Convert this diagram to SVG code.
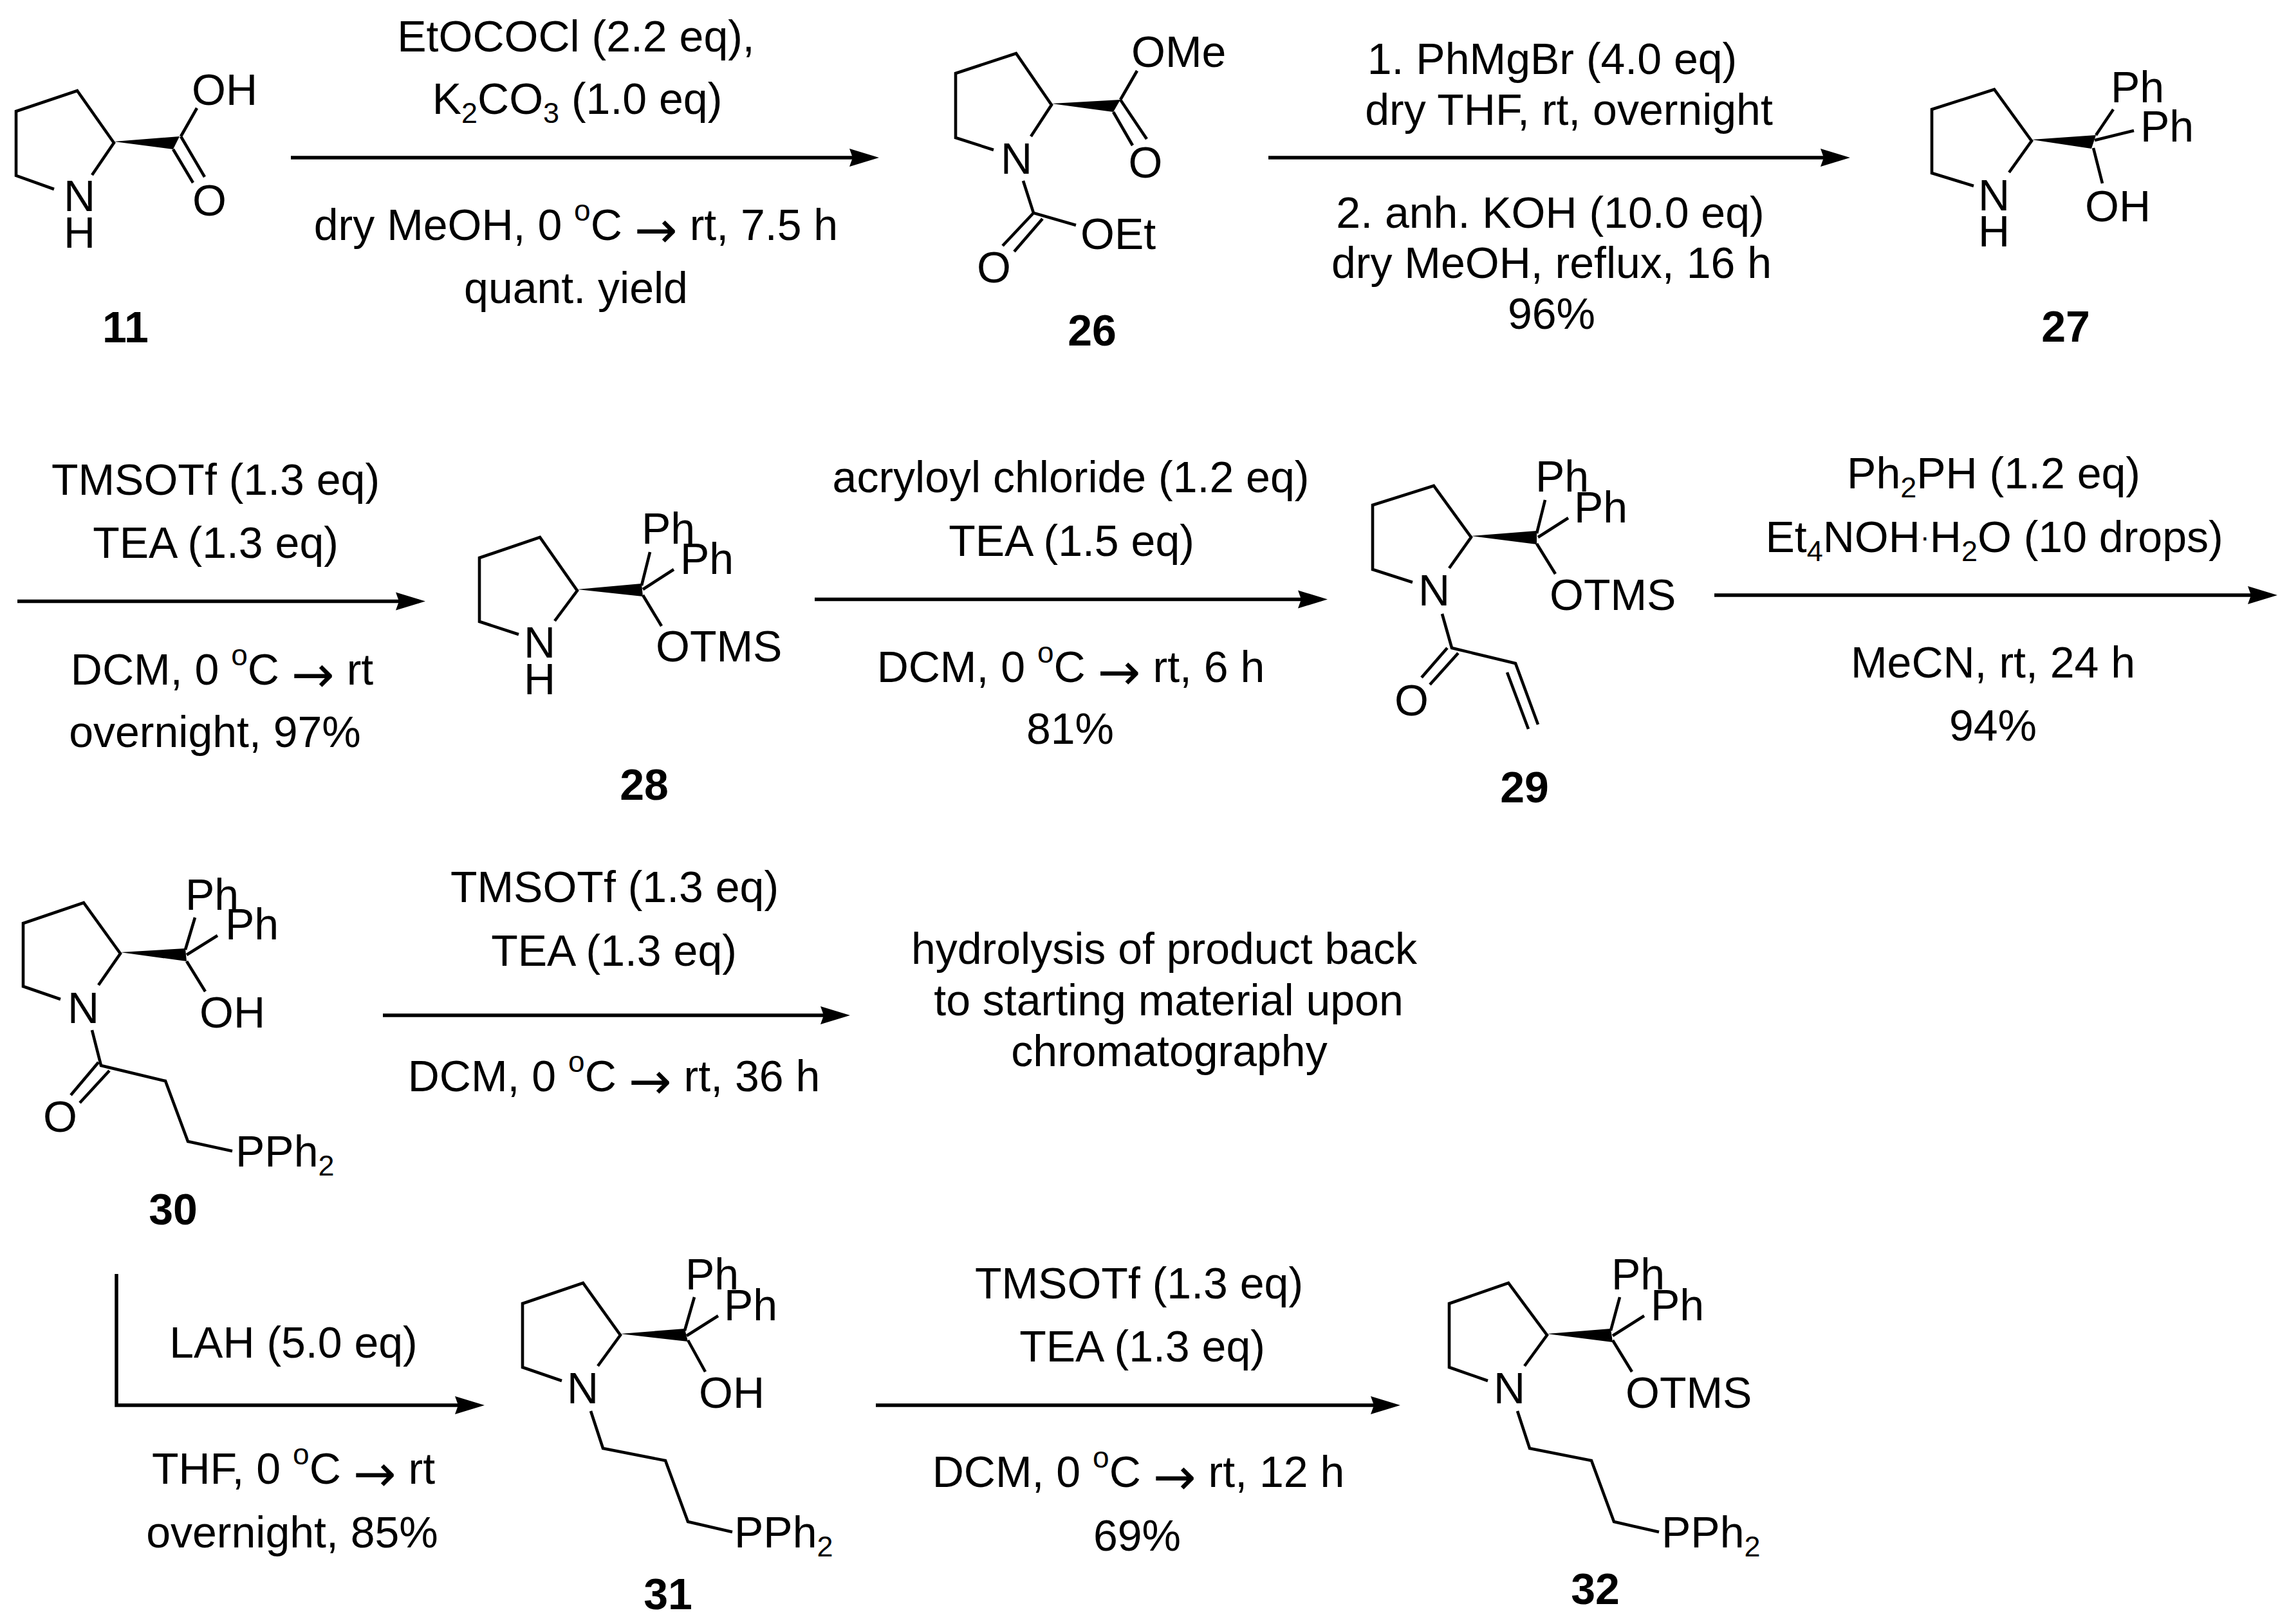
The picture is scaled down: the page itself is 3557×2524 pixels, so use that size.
<svg xmlns="http://www.w3.org/2000/svg" width="3557" height="2524" viewBox="0 0 3557 2524">
<style>
text{font-family:"Liberation Sans",Arial,sans-serif;font-size:68px;fill:#000}
.c{text-anchor:middle}
.n{font-weight:bold;text-anchor:middle}
.s{font-size:45px}
.u{font-size:46px}
.r{font-family:"DejaVu Sans",sans-serif;font-size:80px}
.b{fill:none;stroke:#000;stroke-width:4.6;stroke-linejoin:miter;stroke-linecap:butt}
.w{fill:#000;stroke:none}
.a{fill:none;stroke:#000;stroke-width:5.5;marker-end:url(#head)}
</style>
<defs>
<marker id="head" markerUnits="userSpaceOnUse" markerWidth="60" markerHeight="40" refX="36" refY="14" orient="auto" overflow="visible">
<path d="M0 0L46 14L0 28L5 14Z" fill="#000"/>
</marker>
</defs>
<rect width="3557" height="2524" fill="#fff"/>

<g id="connectors">
<path class="a" d="M452 245H1356"/>
<path class="a" d="M1971 245H2865"/>
<path class="a" d="M27 934.5H651"/>
<path class="a" d="M1266 931.5H2053"/>
<path class="a" d="M2664 925H3529"/>
<path class="a" d="M595 1578H1311"/>
<path class="a" d="M181 1980V2184H743"/>
<path class="a" d="M1361 2184H2166"/>
</g>

<g id="mol-11">
<path class="b" d="M84 294L25 273V173L120 141L177 222L143 272"/>
<path class="w" d="M177 220L279 212L269 232Z"/>
<path class="b" d="M281 212L306 168M281 212L318 275M269 232L300 284"/>
<text x="298" y="163">OH</text>
<text x="99" y="328">N</text>
<text x="99" y="385">H</text>
<text x="299" y="335">O</text>
<text class="n" x="195" y="532">11</text>
</g>

<g id="reagents-1">
<text class="c" x="895" y="80">EtOCOCl (2.2 eq),</text>
<text class="c" x="897" y="177">K<tspan class="s" dy="14">2</tspan><tspan dy="-14">CO</tspan><tspan class="s" dy="14">3</tspan><tspan dy="-14"> (1.0 eq)</tspan></text>
<text class="c" x="895" y="373">dry MeOH, 0 <tspan class="u" dy="-30">o</tspan><tspan dy="30">C </tspan><tspan class="r" dy="12">→</tspan><tspan dy="-12"> rt, 7.5 h</tspan></text>
<text class="c" x="895" y="471">quant. yield</text>
</g>

<g id="mol-26">
<path class="b" d="M1544 233L1485 214V114L1579 83L1634 163L1602 212"/>
<path class="w" d="M1634 161L1741 155L1730 174Z"/>
<path class="b" d="M1741 155L1767 110M1741 155L1782 216M1730 174L1760 226M1590 281L1606 331L1672 350M1606 331L1558 382M1620 340L1576 391"/>
<text x="1758" y="104">OMe</text>
<text x="1780" y="276" text-anchor="middle">O</text>
<text x="1555" y="270">N</text>
<text x="1679" y="387">OEt</text>
<text x="1518" y="439">O</text>
<text class="n" x="1697" y="537">26</text>
</g>

<g id="reagents-2">
<text class="c" x="2412" y="115">1. PhMgBr (4.0 eq)</text>
<text class="c" x="2438" y="194">dry THF, rt, overnight</text>
<text class="c" x="2409" y="354">2. anh. KOH (10.0 eq)</text>
<text class="c" x="2411" y="432">dry MeOH, reflux, 16 h</text>
<text class="c" x="2411" y="511">96%</text>
</g>

<g id="mol-27">
<path class="b" d="M3067 289L3002 269V170L3099 139L3157 219L3122 268"/>
<path class="w" d="M3157 217L3257 210L3250 231Z"/>
<path class="b" d="M3257 210L3284 170M3255 218L3316 203M3253 230L3267 285"/>
<text x="3280" y="159">Ph</text>
<text x="3326" y="220">Ph</text>
<text x="3240" y="344">OH</text>
<text x="3074" y="327">N</text>
<text x="3074" y="383">H</text>
<text class="n" x="3210" y="531">27</text>
</g>

<g id="reagents-3">
<text class="c" x="335" y="769">TMSOTf (1.3 eq)</text>
<text class="c" x="335" y="867">TEA (1.3 eq)</text>
<text class="c" x="345" y="1064">DCM, 0 <tspan class="u" dy="-30">o</tspan><tspan dy="30">C </tspan><tspan class="r" dy="12">→</tspan><tspan dy="-12"> rt</tspan></text>
<text class="c" x="334" y="1161">overnight, 97%</text>
</g>

<g id="mol-28">
<path class="b" d="M806 986L745 966V867L839 835L897 918L862 965"/>
<path class="w" d="M897 916L997 907L999 927Z"/>
<path class="b" d="M997 910L1010 858M999 916L1047 885M999 925L1028 973"/>
<text x="997" y="845">Ph</text>
<text x="1057" y="892">Ph</text>
<text x="1019" y="1028">OTMS</text>
<text x="814" y="1022">N</text>
<text x="814" y="1079">H</text>
<text class="n" x="1001" y="1243">28</text>
</g>

<g id="reagents-4">
<text class="c" x="1664" y="765">acryloyl chloride (1.2 eq)</text>
<text class="c" x="1665" y="864">TEA (1.5 eq)</text>
<text class="c" x="1664" y="1060">DCM, 0 <tspan class="u" dy="-30">o</tspan><tspan dy="30">C </tspan><tspan class="r" dy="12">→</tspan><tspan dy="-12"> rt, 6 h</tspan></text>
<text class="c" x="1663" y="1156">81%</text>
</g>

<g id="mol-29">
<path class="b" d="M2195 905L2133 885V785L2228 755L2286 835L2252 883"/>
<path class="w" d="M2286 833L2388 825L2388 846Z"/>
<path class="b" d="M2388 829L2401 777M2390 835L2437 805M2388 845L2417 892M2241 954L2256 1007L2355 1031L2390 1126M2342 1045L2375 1133M2249 1007L2209 1053M2266 1015L2222 1064"/>
<text x="2386" y="764">Ph</text>
<text x="2446" y="812">Ph</text>
<text x="2408" y="948">OTMS</text>
<text x="2204" y="941">N</text>
<text x="2167" y="1112">O</text>
<text class="n" x="2369" y="1247">29</text>
</g>

<g id="reagents-5">
<text class="c" x="3098" y="759">Ph<tspan class="s" dy="14">2</tspan><tspan dy="-14">PH (1.2 eq)</tspan></text>
<text class="c" x="3099" y="858">Et<tspan class="s" dy="14">4</tspan><tspan dy="-14">NOH</tspan><tspan class="s" dy="-8">·</tspan><tspan dy="8">H</tspan><tspan class="s" dy="14">2</tspan><tspan dy="-14">O (10 drops)</tspan></text>
<text class="c" x="3097" y="1053">MeCN, rt, 24 h</text>
<text class="c" x="3097" y="1151">94%</text>
</g>

<g id="mol-30">
<path class="b" d="M94 1553L36 1533V1435L130 1403L187 1482L153 1531"/>
<path class="w" d="M187 1480L288 1474L290 1494Z"/>
<path class="b" d="M288 1476L303 1426M290 1484L338 1454M290 1494L319 1541M143 1601L157 1656L257 1680L292 1774L361 1789M153 1651L110 1702M170 1664L124 1714"/>
<text x="288" y="1414">Ph</text>
<text x="350" y="1460">Ph</text>
<text x="310" y="1597">OH</text>
<text x="105" y="1590">N</text>
<text x="67" y="1759">O</text>
<text x="366" y="1813">PPh<tspan class="s" dy="14">2</tspan></text>
<text class="n" x="269" y="1903">30</text>
</g>

<g id="reagents-6">
<text class="c" x="955" y="1402">TMSOTf (1.3 eq)</text>
<text class="c" x="954" y="1501">TEA (1.3 eq)</text>
<text class="c" x="954" y="1696">DCM, 0 <tspan class="u" dy="-30">o</tspan><tspan dy="30">C </tspan><tspan class="r" dy="12">→</tspan><tspan dy="-12"> rt, 36 h</tspan></text>
</g>

<g id="note">
<text class="c" x="1809" y="1498">hydrolysis of product back</text>
<text class="c" x="1816" y="1578">to starting material upon</text>
<text class="c" x="1817" y="1657">chromatography</text>
</g>

<g id="reagents-7">
<text class="c" x="456" y="2110">LAH (5.0 eq)</text>
<text class="c" x="456" y="2306">THF, 0 <tspan class="u" dy="-30">o</tspan><tspan dy="30">C </tspan><tspan class="r" dy="12">→</tspan><tspan dy="-12"> rt</tspan></text>
<text class="c" x="454" y="2405">overnight, 85%</text>
</g>

<g id="mol-31">
<path class="b" d="M873 2146L812 2125V2026L906 1994L964 2075L929 2123"/>
<path class="w" d="M964 2073L1064 2065L1069 2085Z"/>
<path class="b" d="M1064 2068L1079 2016M1067 2076L1116 2045M1069 2083L1096 2132M918 2193L937 2251L1034 2270L1069 2365L1138 2381"/>
<text x="1065" y="2004">Ph</text>
<text x="1125" y="2052">Ph</text>
<text x="1086" y="2188">OH</text>
<text x="881" y="2181">N</text>
<text x="1141" y="2405">PPh<tspan class="s" dy="14">2</tspan></text>
<text class="n" x="1038" y="2501">31</text>
</g>

<g id="reagents-8">
<text class="c" x="1770" y="2018">TMSOTf (1.3 eq)</text>
<text class="c" x="1775" y="2116">TEA (1.3 eq)</text>
<text class="c" x="1769" y="2311">DCM, 0 <tspan class="u" dy="-30">o</tspan><tspan dy="30">C </tspan><tspan class="r" dy="12">→</tspan><tspan dy="-12"> rt, 12 h</tspan></text>
<text class="c" x="1767" y="2410">69%</text>
</g>

<g id="mol-32">
<path class="b" d="M2312 2146L2252 2125V2026L2344 1994L2404 2075L2369 2123"/>
<path class="w" d="M2404 2073L2503 2065L2506 2086Z"/>
<path class="b" d="M2503 2068L2517 2016M2506 2076L2555 2045M2506 2083L2536 2132M2358 2193L2377 2251L2473 2270L2508 2365L2578 2381"/>
<text x="2504" y="2004">Ph</text>
<text x="2565" y="2052">Ph</text>
<text x="2526" y="2188">OTMS</text>
<text x="2321" y="2181">N</text>
<text x="2582" y="2405">PPh<tspan class="s" dy="14">2</tspan></text>
<text class="n" x="2479" y="2493">32</text>
</g>
</svg>
